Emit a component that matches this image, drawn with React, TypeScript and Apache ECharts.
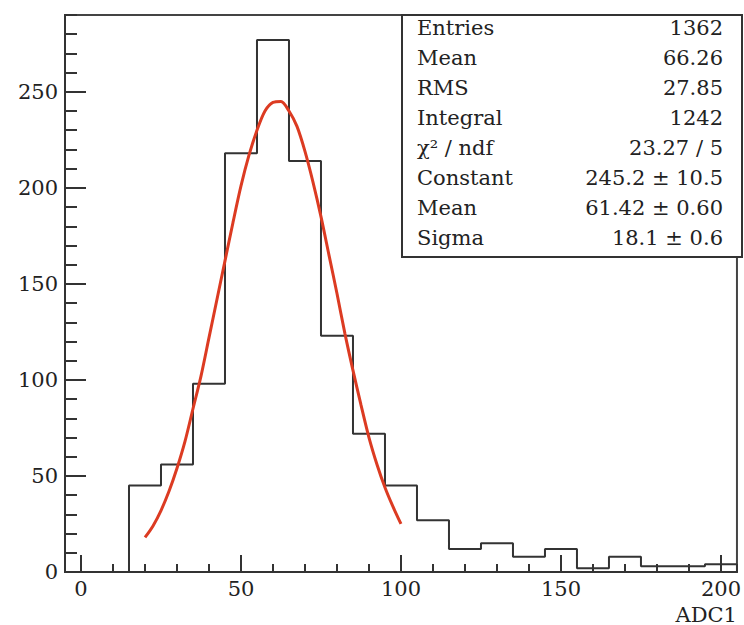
import React, { useEffect, useRef } from "react";
import * as echarts from "echarts";

// Histogram: left bin edges (width 10) and bin contents
const binLowEdges = [-5, 5, 15, 25, 35, 45, 55, 65, 75, 85, 95, 105, 115, 125, 135, 145, 155, 165, 175, 185, 195];
const binWidth = 10;
const counts = [0, 0, 45, 56, 98, 218, 277, 214, 123, 72, 45, 27, 12, 15, 8, 12, 2, 8, 3, 3, 4];

// Gaussian fit curve
const fitX = [20, 22.5, 25, 27.5, 30, 32.5, 35, 37.5, 40, 42.5, 45, 47.5, 50, 52.5, 55, 57.5, 60, 62.5, 65, 67.5, 70, 72.5, 75, 77.5, 80, 82.5, 85, 87.5, 90, 92.5, 95, 97.5, 100];
const fitY = [18, 24, 32, 42, 54, 68, 85, 102, 122, 142, 162, 182, 201, 217, 230, 240, 244.5, 245, 240, 232, 219, 203, 185, 165, 145, 124, 105, 87, 70, 56, 44, 34, 25];

// Axis ranges and tick steps
const xMin = -5;
const xMax = 205;
const yMin = 0;
const yMax = 290;
const yMajorStep = 50;
const yMinorStep = 10;

// Statistics box
const statLabels = ["Entries", "Mean", "RMS", "Integral", "χ² / ndf", "Constant", "Mean", "Sigma"];
const statValues = ["1362", "66.26", "27.85", "1242", "23.27 / 5", "245.2 ± 10.5", "61.42 ± 0.60", "18.1 ± 0.6"];

const FONT = "DejaVu Serif";
const TEXT = "#222";
const AXIS = "#333";

export default function App() {
  const ref = useRef<HTMLDivElement>(null);
  useEffect(() => {
    if (!ref.current) return;
    const chart = echarts.init(ref.current, null, { renderer: "svg" });

    const histData: number[][] = binLowEdges.map((e, i) => [e, counts[i]]);
    const last = binLowEdges.length - 1;
    histData.push([binLowEdges[last] + binWidth, counts[last]]);
    const fitData = fitX.map((x, i) => [x, fitY[i]]);

    const boxLeft = 402, boxTop = 15, boxW = 340, boxH = 242;
    const rowTop = 27.5, rowStep = 30;
    const graphic: any[] = [
      {
        type: "rect",
        shape: { x: boxLeft, y: boxTop, width: boxW, height: boxH },
        style: { fill: "#fff", stroke: AXIS, lineWidth: 2 },
        z: 100,
      },
    ];
    statLabels.forEach((t, i) => {
      graphic.push({
        type: "text",
        x: 417,
        y: rowTop + i * rowStep,
        z: 101,
        style: { text: t, fontFamily: FONT, fontSize: 21, fill: TEXT, align: "left", verticalAlign: "middle" },
      });
      graphic.push({
        type: "text",
        x: 723,
        y: rowTop + i * rowStep,
        z: 101,
        style: { text: statValues[i], fontFamily: FONT, fontSize: 21, fill: TEXT, align: "right", verticalAlign: "middle" },
      });
    });

    const tickLine = { color: AXIS, width: 2 };

    const option: any = {
      animation: false,
      backgroundColor: "#fff",
      grid: {
        left: 65,
        top: 15,
        right: 2,
        bottom: 52,
        show: true,
        borderColor: "#444",
        borderWidth: 2,
        backgroundColor: "transparent",
      },
      xAxis: [
        {
          type: "value",
          min: xMin,
          max: xMax,
          splitNumber: 5,
          position: "bottom",
          axisLine: { show: true, onZero: false, lineStyle: { color: AXIS, width: 2 } },
          axisTick: { show: true, inside: true, length: 17, lineStyle: tickLine },
          axisLabel: { show: true, showMinLabel: false, showMaxLabel: false, margin: 6, fontFamily: FONT, fontSize: 21, color: TEXT },
          splitLine: { show: false },
          name: "ADC1",
          nameLocation: "end",
          nameGap: 0,
          nameTextStyle: {
            fontFamily: FONT,
            fontSize: 21,
            color: TEXT,
            align: "right",
            verticalAlign: "top",
            padding: [32, 0, 0, 0],
          },
        },
        {
          type: "value",
          min: xMin,
          max: xMax,
          splitNumber: 21,
          position: "bottom",
          axisLine: { show: false, onZero: false },
          axisTick: { show: true, inside: true, length: 8, lineStyle: tickLine },
          axisLabel: { show: false },
          splitLine: { show: false },
        },
      ],
      yAxis: [
        {
          type: "value",
          min: yMin,
          max: yMax,
          interval: yMajorStep,
          position: "left",
          axisLine: { show: true, onZero: false, lineStyle: { color: AXIS, width: 2 } },
          axisTick: { show: true, inside: true, length: 21, lineStyle: tickLine },
          axisLabel: { show: true, showMaxLabel: false, margin: 7, fontFamily: FONT, fontSize: 21, color: TEXT },
          splitLine: { show: false },
        },
        {
          type: "value",
          min: yMin,
          max: yMax,
          interval: yMinorStep,
          position: "left",
          axisLine: { show: false, onZero: false },
          axisTick: { show: true, inside: true, length: 12, lineStyle: tickLine },
          axisLabel: { show: false },
          splitLine: { show: false },
        },
      ],
      series: [
        {
          type: "line",
          xAxisIndex: 0,
          yAxisIndex: 0,
          step: "end",
          data: histData,
          symbol: "none",
          lineStyle: { color: AXIS, width: 2 },
          z: 3,
        },
        {
          type: "line",
          xAxisIndex: 0,
          yAxisIndex: 0,
          data: fitData,
          smooth: 0.3,
          symbol: "none",
          lineStyle: { color: "#dc3b22", width: 3 },
          z: 4,
        },
      ],
      graphic,
    };
    chart.setOption(option);
    return () => chart.dispose();
  }, []);
  return <div ref={ref} style={{ position: "fixed", left: 0, top: 0, width: 744, height: 625, background: "#fff" }} />;
}
